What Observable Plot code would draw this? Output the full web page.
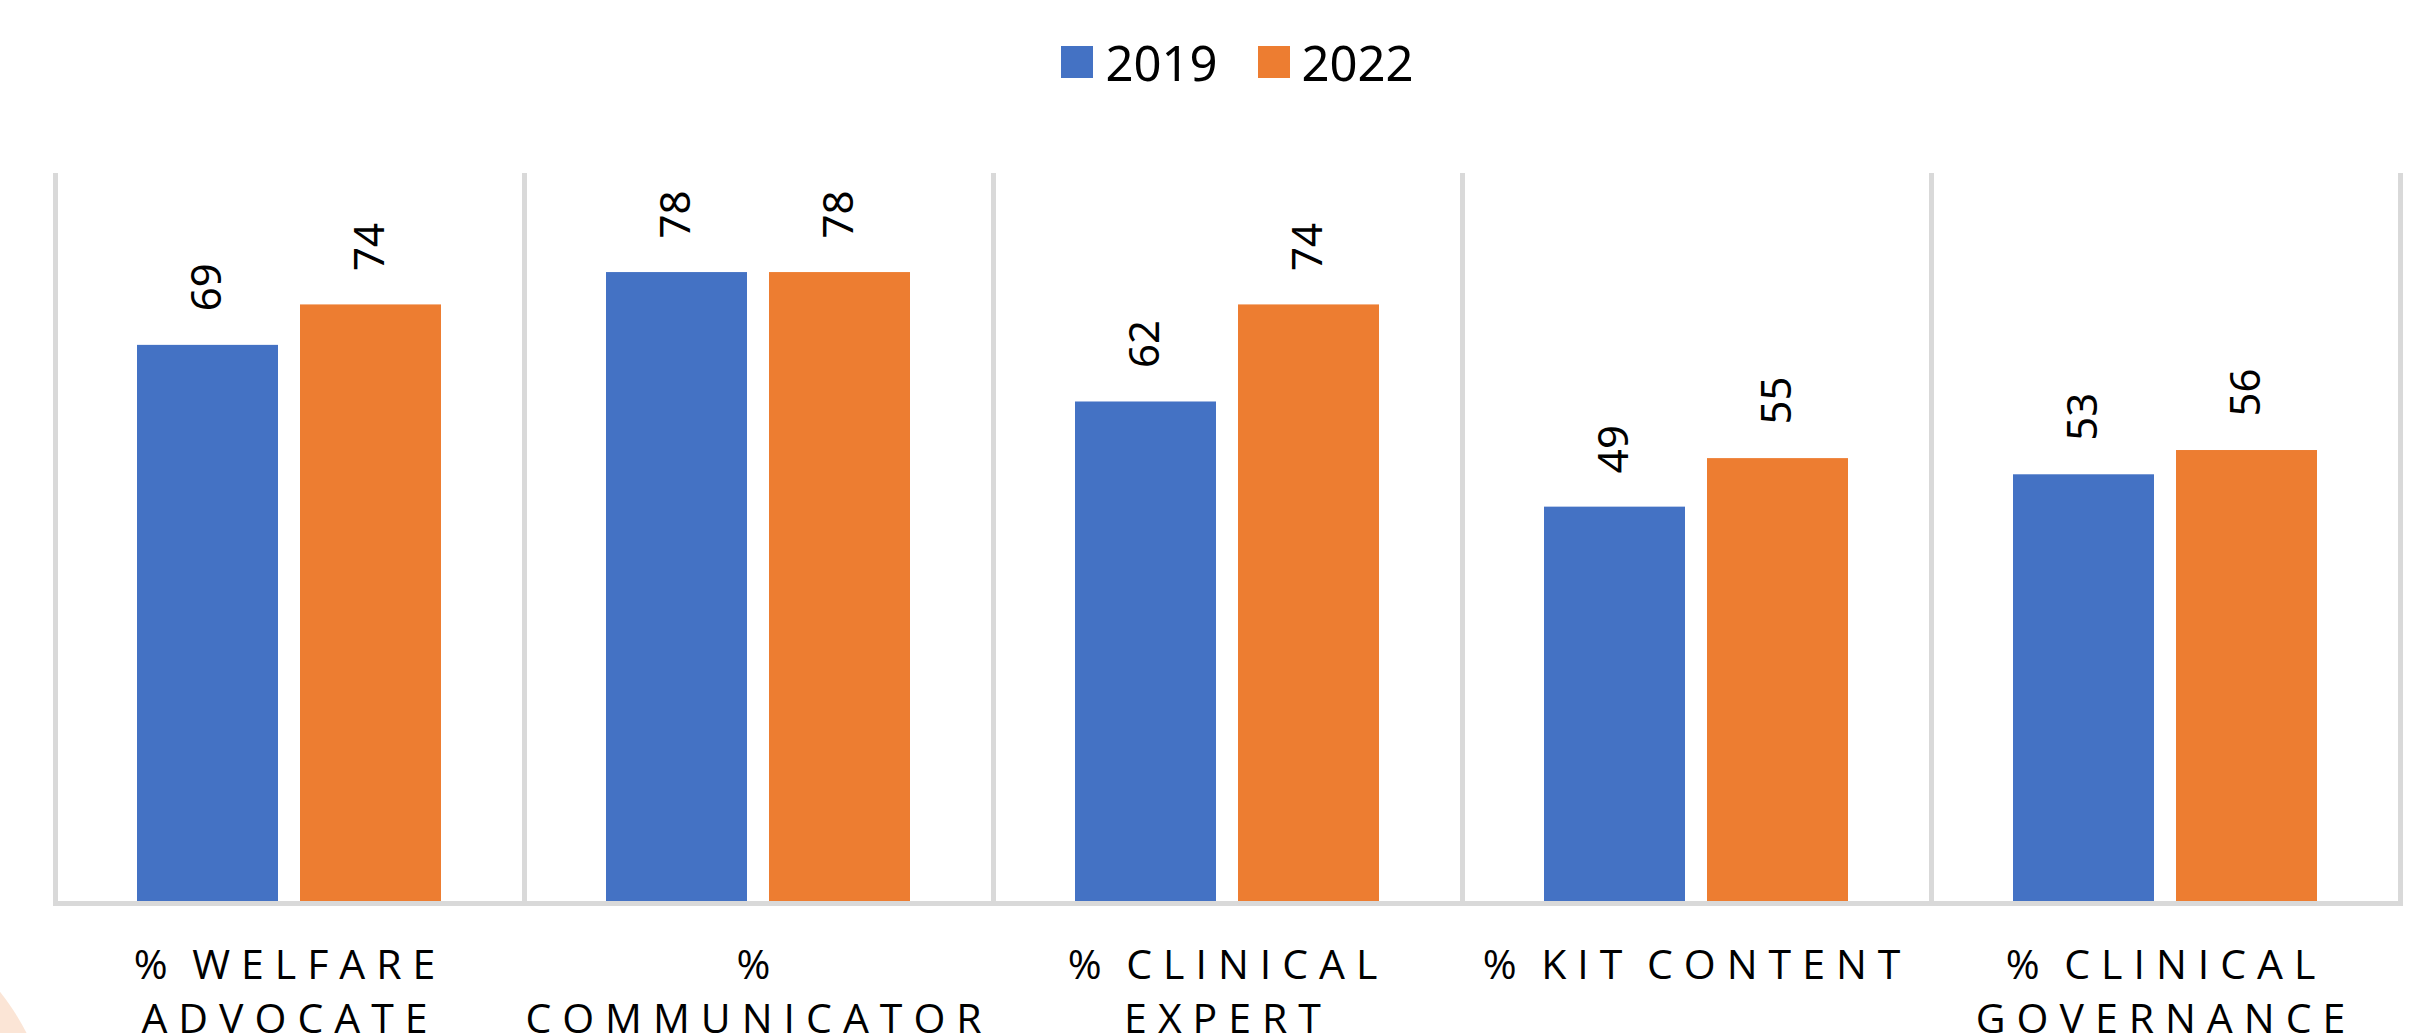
<!DOCTYPE html>
<html><head><meta charset="utf-8">
<script src="https://cdn.jsdelivr.net/npm/d3@7"></script>
<script src="https://cdn.jsdelivr.net/npm/@observablehq/plot@0.6"></script>
<style>
html,body{margin:0;padding:0;background:#fff;width:2429px;height:1033px;overflow:hidden;position:relative;}
#legend{height:124px;display:flex;align-items:center;justify-content:center;padding-left:46px;box-sizing:border-box;font-family:"Noto Sans",sans-serif;font-size:49px;color:#000;}
.item{display:flex;align-items:center;margin:0 20px;line-height:1;}
.sw{width:32px;height:32px;margin-right:12px;}
#chart svg{display:block;}
#deco{position:absolute;left:-455px;top:895px;width:510px;height:510px;border-radius:50%;background:#FBE5D6;}
</style></head>
<body>
<div id="legend"></div>
<div id="chart"></div>
<div id="deco"></div>
<script>
const categories = ["% WELFARE ADVOCATE", "% COMMUNICATOR", "% CLINICAL EXPERT", "% KIT CONTENT", "% CLINICAL GOVERNANCE"];
const tickLabels = ["% WELFARE\nADVOCATE", "%\nCOMMUNICATOR", "% CLINICAL\nEXPERT", "% KIT CONTENT", "% CLINICAL\nGOVERNANCE"];
const years = ["2019", "2022"];
const values2019 = [69, 78, 62, 49, 53];
const values2022 = [74, 78, 74, 55, 56];
const colors = ["#4472C4", "#ED7D31"];

const data = categories.flatMap((c, i) => [
  {cat: c, year: years[0], value: values2019[i]},
  {cat: c, year: years[1], value: values2022[i]}
]);
const labelOf = new Map(categories.map((c, i) => [c, tickLabels[i]]));
const grid = "#D9D9D9";

// legend
const legend = document.getElementById("legend");
years.forEach((y, i) => {
  const it = document.createElement("div");
  it.className = "item";
  const sw = document.createElement("div");
  sw.className = "sw";
  sw.style.background = colors[i];
  const t = document.createElement("span");
  t.textContent = y;
  it.appendChild(sw); it.appendChild(t);
  legend.appendChild(it);
});

const chart = Plot.plot({
  width: 2429,
  height: 909,
  marginTop: 51,
  marginBottom: 130,
  marginLeft: 54,
  marginRight: 29,
  style: {background: "transparent", overflow: "visible"},
  fx: {domain: categories, padding: 0, label: null},
  x: {domain: years, paddingInner: 0.134, paddingOuter: 0.4975, axis: null},
  y: {domain: [0, 90], axis: null},
  color: {domain: years, range: colors},
  marks: [
    Plot.frame({anchor: "left", stroke: grid, strokeWidth: 5}),
    Plot.frame({anchor: "right", stroke: grid, strokeWidth: 5}),
    Plot.barY(data, {fx: "cat", x: "year", y: "value", fill: "year"}),
    Plot.ruleY([0], {stroke: grid, strokeWidth: 5}),
    Plot.text(data, {fx: "cat", x: "year", y: "value", text: d => String(d.value), rotate: -90,
      textAnchor: "start", lineAnchor: "middle", dy: -34, fontSize: 42, fontFamily: "Noto Sans", fill: "#000"}),
    Plot.axisFx({anchor: "bottom", tickSize: 0, tickPadding: 36, tickFormat: d => labelOf.get(d),
      fontSize: 41, lineHeight: 1.34, fontFamily: "Open Sans, sans-serif", fill: "#000", label: null})
  ]
});
document.getElementById("chart").appendChild(chart);
d3.select(chart).selectAll('g[aria-label="fx-axis tick label"] text')
  .style("letter-spacing", "11px")
  .style("word-spacing", "-8px");
</script>
</body></html>
